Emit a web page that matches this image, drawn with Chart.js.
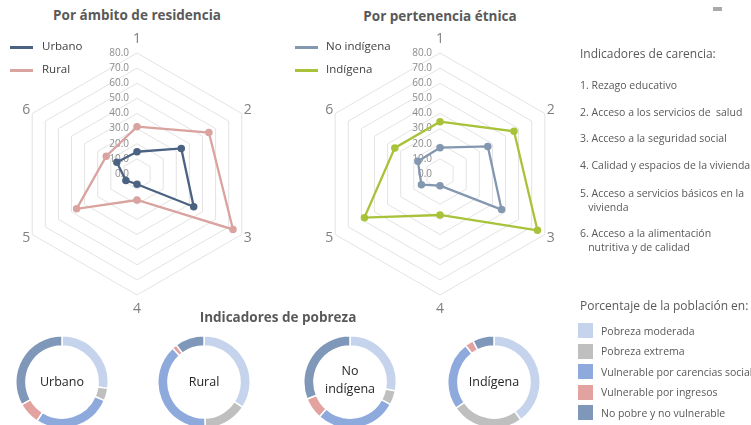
<!DOCTYPE html>
<html lang="es">
<head>
<meta charset="utf-8">
<script src="https://cdn.jsdelivr.net/npm/chart.js@4.4.0/dist/chart.umd.min.js"></script>
<style>
  body { margin: 0; width: 751px; height: 425px; overflow: hidden; background: #fff;
         font-family: 'Open Sans', sans-serif; color: #595959; position: relative; }
  .abs { position: absolute; white-space: nowrap; }
  canvas { position: absolute; }
  .title { font-weight: bold; font-size: 13.5px; color: #595959; transform: translateX(-50%); }
  .leg { font-size: 11.5px; color: #404040; }
  .legline { position: absolute; height: 2.5px; width: 23px; }
  .ind { font-size: 10.5px; color: #595959; line-height: 14px; }
  .sq { position: absolute; width: 15px; height: 15px; }
  .dlab { font-size: 12.5px; color: #262626; text-align: center; transform: translate(-50%, -50%); line-height: 18px; z-index: 2; }
  .txt { z-index: 2; }
</style>
</head>
<body>

<!-- radar canvases -->
<canvas id="radar-residencia" width="286" height="286" style="left:-6px; top:31px"></canvas>
<canvas id="radar-etnia" width="286" height="286" style="left:297px; top:31px"></canvas>

<!-- doughnut canvases -->
<canvas id="dona-0" width="94" height="94" style="left:15px; top:335px"></canvas>
<canvas id="dona-1" width="94" height="94" style="left:157px; top:335px"></canvas>
<canvas id="dona-2" width="94" height="94" style="left:303px; top:335px"></canvas>
<canvas id="dona-3" width="94" height="94" style="left:447px; top:335px"></canvas>

<div class="abs title" style="left:137px; top:6px">Por ámbito de residencia</div>
<div class="abs title" style="left:440px; top:7px">Por pertenencia étnica</div>
<div class="abs title" style="left:278px; top:308px">Indicadores de pobreza</div>

<div class="legline" style="left:10px; top:46px; background:#4b6282"></div>
<div class="abs leg" style="left:42px; top:38px">Urbano</div>
<div class="legline" style="left:10px; top:69px; background:#d9a3a0"></div>
<div class="abs leg" style="left:42px; top:61px">Rural</div>

<div class="legline" style="left:295px; top:46px; background:#8497b0"></div>
<div class="abs leg" style="left:326px; top:38px">No indígena</div>
<div class="legline" style="left:295px; top:69px; background:#a8c23a"></div>
<div class="abs leg" style="left:326px; top:61px">Indígena</div>

<div class="abs txt" style="left:713px; top:7px; width:9px; height:4px; background:#aaa"></div>

<div class="abs txt" style="left:580px; top:45px; font-size:12px">Indicadores de carencia:</div>
<div id="lista-carencias"></div>

<div class="abs txt" style="left:580px; top:297px; font-size:12px">Porcentaje de la población en:</div>
<div id="leyenda-pobreza"></div>

<div class="abs dlab" style="left:62px; top:382px">Urbano</div>
<div class="abs dlab" style="left:204px; top:382px">Rural</div>
<div class="abs dlab" style="left:350px; top:380px">No<br>indígena</div>
<div class="abs dlab" style="left:494px; top:382px">Indígena</div>

<script>
// Indicadores de carencia (ejes del radar)
const ejes = ['1', '2', '3', '4', '5', '6'];
const carencias = [
    '1. Rezago educativo',
    '2. Acceso a los servicios de  salud',
    '3. Acceso a la seguridad social',
    '4. Calidad y espacios de la vivienda',
    '5. Acceso a servicios básicos en la\n   vivienda',
    '6. Acceso a la alimentación\n   nutritiva y de calidad'
];
const ticksRadar = [0, 10, 20, 30, 40, 50, 60, 70, 80];

// Porcentaje con carencia por ámbito de residencia
const urbano = [14.7, 33.8, 43.3, 6.8, 8.5, 15.4];
const rural = [31.3, 54.9, 73.3, 17.2, 46.1, 23.5];

// Por pertenencia étnica
const noIndigena = [17.4, 36.5, 47.0, 7.7, 14.2, 16.9];
const indigena = [34.6, 56.5, 74.4, 27.1, 57.7, 34.5];

// Indicadores de pobreza (porcentaje de la población)
const categoriasPobreza = ['Pobreza moderada', 'Pobreza extrema', 'Vulnerable por carencias sociales',
    'Vulnerable por ingresos', 'No pobre y no vulnerable'];
const pobUrbano = [27.2, 4.4, 27.5, 7.8, 33.1];
const pobRural = [34.2, 15.4, 38.5, 1.7, 10.2];
const pobNoIndigena = [28.1, 5.0, 28.4, 7.5, 31.0];
const pobIndigena = [40.2, 25.2, 24.1, 3.0, 7.5];

const coloresPobreza = ['#c5d4ec', '#bfbfbf', '#8eaadc', '#e2a3a0', '#7f97b8'];

// texto de la derecha
const lista = document.getElementById('lista-carencias');
const posCarencias = [78, 105, 131, 158, 186, 226];
carencias.forEach((t, i) => {
    const d = document.createElement('div');
    d.className = 'abs ind txt';
    d.style.left = '580px';
    d.style.top = posCarencias[i] + 'px';
    d.style.whiteSpace = 'pre';
    d.textContent = t;
    lista.appendChild(d);
});

const ley = document.getElementById('leyenda-pobreza');
categoriasPobreza.forEach((t, i) => {
    const y = 323 + i * 20.5;
    const s = document.createElement('div');
    s.className = 'sq txt';
    s.style.left = '578px';
    s.style.top = y + 'px';
    s.style.background = coloresPobreza[i];
    ley.appendChild(s);
    const d = document.createElement('div');
    d.className = 'abs ind txt';
    d.style.left = '601px';
    d.style.top = (y + 0.5) + 'px';
    d.textContent = t;
    ley.appendChild(d);
});

// etiquetas de la escala a la izquierda del eje 1
const etiquetasEscala = {
    id: 'etiquetasEscala',
    beforeDatasetsDraw(chart) {
        const r = chart.scales.r;
        const ctx = chart.ctx;
        ctx.save();
        ctx.font = '10px "Open Sans"';
        ctx.fillStyle = '#8c8c8c';
        ctx.textAlign = 'right';
        ctx.textBaseline = 'middle';
        ticksRadar.forEach(v => {
            const d = r.getDistanceFromCenterForValue(v);
            ctx.fillText(v.toFixed(1), r.xCenter - 8, r.yCenter - d);
        });
        ctx.restore();
    }
};

// numeros de los ejes, centrados como en Excel
const etiquetasEjes = {
    id: 'etiquetasEjes',
    afterDatasetsDraw(chart) {
        const r = chart.scales.r;
        const ctx = chart.ctx;
        ctx.save();
        ctx.font = '14px "Open Sans"';
        ctx.fillStyle = '#7f7f7f';
        ctx.textAlign = 'center';
        ctx.textBaseline = 'middle';
        chart.data.labels.forEach((t, i) => {
            const extra = (i === 0 || i === 3) ? 14 : 7;
            const p = r.getPointPosition(i, r.drawingArea + extra);
            ctx.fillText(t, p.x, p.y);
        });
        ctx.restore();
    }
};

function serie(label, data, color) {
    return {
        label: label,
        data: data,
        borderColor: color,
        backgroundColor: color,
        pointBackgroundColor: color,
        pointBorderColor: color,
        borderWidth: 2.3,
        pointRadius: 2.6,
        fill: false
    };
}

function radar(id, datasets) {
    const ctx = document.getElementById(id).getContext('2d');
    return new Chart(ctx, {
        type: 'radar',
        data: { labels: ejes, datasets: datasets },
        options: {
            responsive: false,
            animation: false,
            devicePixelRatio: 1,
            layout: { padding: 22 },
            plugins: { legend: { display: false }, tooltip: { enabled: false } },
            scales: {
                r: {
                    min: 0,
                    max: 80,
                    ticks: { stepSize: 10, display: false },
                    grid: { color: '#e3e3e3', lineWidth: 1 },
                    angleLines: { display: false },
                    pointLabels: { display: false }
                }
            }
        },
        plugins: [etiquetasEscala, etiquetasEjes]
    });
}

radar('radar-residencia', [serie('Urbano', urbano, '#4b6282'), serie('Rural', rural, '#d9a3a0')]);
radar('radar-etnia', [serie('No indígena', noIndigena, '#8497b0'), serie('Indígena', indigena, '#a8c23a')]);

function dona(id, data) {
    const ctx = document.getElementById(id).getContext('2d');
    return new Chart(ctx, {
        type: 'doughnut',
        data: {
            labels: categoriasPobreza,
            datasets: [{
                data: data,
                backgroundColor: coloresPobreza,
                borderColor: '#ffffff',
                borderWidth: 1.5
            }]
        },
        options: {
            responsive: false,
            animation: false,
            devicePixelRatio: 1,
            cutout: '78%',
            plugins: { legend: { display: false }, tooltip: { enabled: false } }
        }
    });
}

dona('dona-0', pobUrbano);
dona('dona-1', pobRural);
dona('dona-2', pobNoIndigena);
dona('dona-3', pobIndigena);
</script>
</body>
</html>
